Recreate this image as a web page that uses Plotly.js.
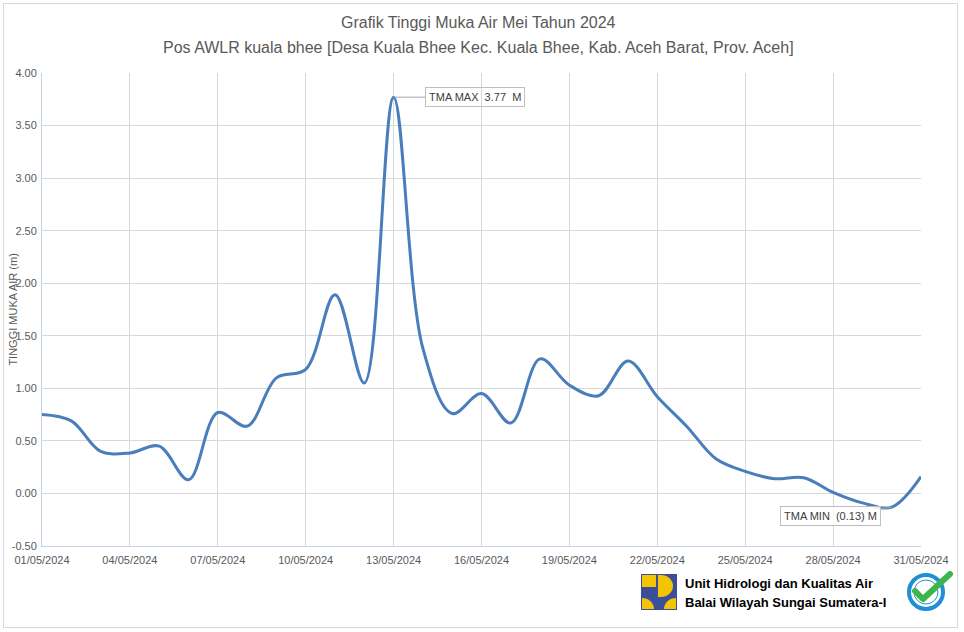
<!DOCTYPE html>
<html>
<head>
<meta charset="utf-8">
<script src="https://cdn.plot.ly/plotly-3.0.1.min.js"></script>
<style>
html,body{margin:0;padding:0;background:#fff;}
#chart{width:964px;height:632px;}
#frame{position:absolute;left:3px;top:3px;width:953px;height:623px;border:1px solid #d9d9d9;pointer-events:none;}
</style>
</head>
<body>
<div id="chart"></div>
<div id="frame"></div>
<script>
// ---- data ----
const dates = [
  '2024-05-01','2024-05-02','2024-05-03','2024-05-04','2024-05-05','2024-05-06','2024-05-07',
  '2024-05-08','2024-05-09','2024-05-10','2024-05-11','2024-05-12','2024-05-13','2024-05-14',
  '2024-05-15','2024-05-16','2024-05-17','2024-05-18','2024-05-19','2024-05-20','2024-05-21',
  '2024-05-22','2024-05-23','2024-05-24','2024-05-25','2024-05-26','2024-05-27','2024-05-28',
  '2024-05-29','2024-05-30','2024-05-31'
];
const levels = [
  0.75, 0.69, 0.40, 0.385, 0.45, 0.13, 0.77,
  0.64, 1.10, 1.18, 1.89, 1.05, 3.77, 1.38,
  0.76, 0.95, 0.67, 1.28, 1.03, 0.93, 1.26,
  0.92, 0.64, 0.33, 0.21, 0.14, 0.15, 0.01,
  -0.09, -0.13, 0.16
];
const xTickVals = ['2024-05-01','2024-05-04','2024-05-07','2024-05-10','2024-05-13','2024-05-16',
  '2024-05-19','2024-05-22','2024-05-25','2024-05-28','2024-05-31'];
const xTickText = ['01/05/2024','04/05/2024','07/05/2024','10/05/2024','13/05/2024','16/05/2024',
  '19/05/2024','22/05/2024','25/05/2024','28/05/2024','31/05/2024'];
const yTickVals = [-0.5, 0, 0.5, 1, 1.5, 2, 2.5, 3, 3.5, 4];
const yTickText = ['-0.50','0.00','0.50','1.00','1.50','2.00','2.50','3.00','3.50','4.00'];
const titleLine1 = 'Grafik Tinggi Muka Air Mei Tahun 2024';
const titleLine2 = 'Pos AWLR kuala bhee [Desa Kuala Bhee Kec. Kuala Bhee, Kab. Aceh Barat, Prov. Aceh]';
const yTitle = 'TINGGI MUKA AIR (m)';
const orgLine1 = 'Unit Hidrologi dan Kualitas Air';
const orgLine2 = 'Balai Wilayah Sungai Sumatera-I';

// find max/min from data
let iMax = 0, iMin = 0;
levels.forEach((v,i)=>{ if(v>levels[iMax]) iMax=i; if(v<levels[iMin]) iMin=i; });
const fmt = v => v<0 ? '(' + Math.abs(v).toFixed(2) + ')' : v.toFixed(2);

const FONT = 'Liberation Sans, Arial, sans-serif';
const GREY = '#595959';

const puLogo = 'data:image/svg+xml;utf8,' + encodeURIComponent(
 '<svg xmlns="http://www.w3.org/2000/svg" width="36" height="36" viewBox="0 0 36 36">' +
 '<rect width="36" height="36" fill="#3a4e9c"/>' +
 '<rect x="1" y="1" width="14" height="12" fill="#f4c400"/>' +
 '<path d="M17 1 H20 A12 11 0 0 1 20 23 H17 Z" fill="#f4c400"/>' +
 '<path d="M1 35 V24 A12 11 0 0 1 13 35 Z" fill="#f4c400"/>' +
 '<path d="M35 35 V24 A12 11 0 0 0 23 35 Z" fill="#f4c400"/>' +
 '</svg>');
const badge = 'data:image/svg+xml;utf8,' + encodeURIComponent(
 '<svg xmlns="http://www.w3.org/2000/svg" width="48" height="40" viewBox="0 0 48 40">' +
 '<circle cx="20" cy="21" r="17" fill="#fff" stroke="#1e8fd6" stroke-width="4"/>' +
 '<circle cx="20" cy="21" r="12" fill="none" stroke="#1e8fd6" stroke-width="1"/>' +
 '<path d="M9 20 L17 28 L44 3" fill="none" stroke="#3cb54a" stroke-width="6" stroke-linecap="round" stroke-linejoin="round"/>' +
 '</svg>');

const trace = {
  type: 'scatter', mode: 'lines', x: dates, y: levels,
  line: {color: '#4a7dbb', width: 3, shape: 'spline', smoothing: 1},
  hoverinfo: 'x+y'
};

const layout = {
  width: 964, height: 632,
  margin: {l: 42, r: 43, t: 73, b: 86},
  paper_bgcolor: '#fff', plot_bgcolor: '#fff',
  showlegend: false,
  font: {family: FONT, color: GREY, size: 11},
  xaxis: {
    type: 'date', range: ['2024-05-01','2024-05-31'],
    tickvals: xTickVals, ticktext: xTickText,
    showgrid: true, gridcolor: '#d9d9d9', gridwidth: 1,
    zeroline: false, showline: true, linecolor: '#c5d3e6', linewidth: 1,
    ticks: '', tickfont: {size: 11, color: GREY, family: FONT}, ticklabelstandoff: 4
  },
  yaxis: {
    range: [-0.5, 4.0], tickvals: yTickVals, ticktext: yTickText,
    showgrid: true, gridcolor: '#d9d9d9', gridwidth: 1,
    zeroline: false, showline: true, linecolor: '#c5d3e6', linewidth: 1,
    ticks: '', tickfont: {size: 11, color: GREY, family: FONT}, ticklabelstandoff: 2
  },
  annotations: [
    {xref:'paper', yref:'paper', x:0.4965, y:1.107, text:titleLine1, showarrow:false,
     font:{size:16, color:GREY, family:FONT}, xanchor:'center', yanchor:'middle'},
    {xref:'paper', yref:'paper', x:0.4965, y:1.054, text:titleLine2, showarrow:false,
     font:{size:16, color:GREY, family:FONT}, xanchor:'center', yanchor:'middle'},
    {xref:'paper', yref:'paper', x:-0.034, y:0.50, text:yTitle, showarrow:false, textangle:-90,
     font:{size:11, color:GREY, family:FONT}, xanchor:'center', yanchor:'middle'},
    {x: dates[iMax], y: levels[iMax], text: 'TMA MAX  ' + fmt(levels[iMax]) + '  M',
     showarrow:true, arrowhead:0, arrowwidth:1, arrowcolor:'#a6a6a6', ax:81, ay:0,
     bordercolor:'#bfbfbf', borderwidth:1, borderpad:3, bgcolor:'rgba(255,255,255,0)',
     font:{size:11, color:'#404040', family:FONT}},
    {x: dates[iMin], y: levels[iMin], text: 'TMA MIN  ' + fmt(levels[iMin]) + ' M',
     showarrow:true, arrowhead:0, arrowwidth:1, arrowcolor:'#a6a6a6', ax:-61, ay:9,
     bordercolor:'#bfbfbf', borderwidth:1, borderpad:3, bgcolor:'rgba(255,255,255,0.85)',
     font:{size:11, color:'#404040', family:FONT}},
    {xref:'paper', yref:'paper', x:(683-42)/879, y:(546-583)/473, text:'<b>'+orgLine1+'</b>',
     showarrow:false, xanchor:'left', yanchor:'middle', font:{size:13, color:'#000', family:FONT}},
    {xref:'paper', yref:'paper', x:(683-42)/879, y:(546-602)/473, text:'<b>'+orgLine2+'</b>',
     showarrow:false, xanchor:'left', yanchor:'middle', font:{size:13, color:'#000', family:FONT}}
  ],
  images: [
    {source: puLogo, xref:'paper', yref:'paper', x:(641-42)/879, y:(546-574)/473,
     sizex:36/879, sizey:36/473, xanchor:'left', yanchor:'top', sizing:'stretch', layer:'above'},
    {source: badge, xref:'paper', yref:'paper', x:(906-42)/879, y:(546-571)/473,
     sizex:48/879, sizey:40/473, xanchor:'left', yanchor:'top', sizing:'stretch', layer:'above'}
  ]
};

Plotly.newPlot('chart', [trace], layout, {displayModeBar: false, staticPlot: true});
</script>
</body>
</html>
